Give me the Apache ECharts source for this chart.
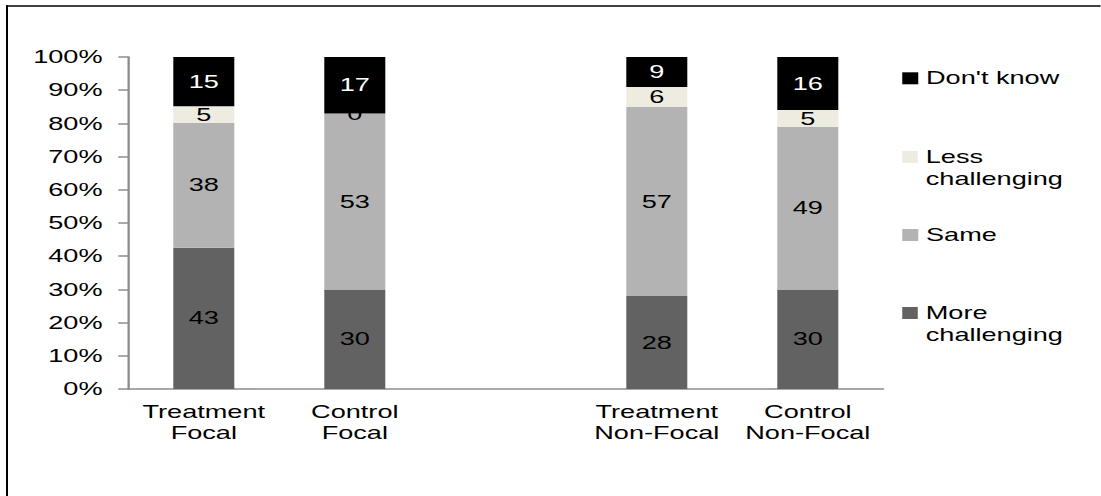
<!DOCTYPE html>
<html>
<head>
<meta charset="utf-8">
<script src="https://cdn.jsdelivr.net/npm/echarts@6/dist/echarts.min.js"></script>
<style>
  html, body { margin: 0; padding: 0; background: #fff; overflow: hidden; }
  #wrap { width: 1101px; height: 496px; overflow: hidden; position: relative; }
  #chart { height: 496px; transform-origin: 0 0; }
</style>
</head>
<body>
<div id="wrap"><div id="chart"></div></div>
<script>
// Survey responses per group (counts; each column is drawn as a 100% stack)
const categories = ['Treatment\nFocal', 'Control\nFocal', '', 'Treatment\nNon-Focal', 'Control\nNon-Focal'];
const moreChallenging = [43, 30, null, 28, 30];
const same = [38, 53, null, 57, 49];
const lessChallenging = [5, 0, null, 6, 5];
const dontKnow = [15, 17, null, 9, 16];
const seriesNames = ['More challenging', 'Same', 'Less challenging', "Don't know"];
const seriesColors = ['#626262', '#b3b3b3', '#eeece1', '#000000'];
const labelColors = ['#000', '#000', '#000', '#fff'];

// The whole drawing is laid out narrow and widened horizontally.
const SX = 1.55;
const W = 1101 / SX;
const px = x => x / SX;
const FONT = '"Liberation Sans", Arial, sans-serif';
const FS = 17.5;

const chartEl = document.getElementById('chart');
chartEl.style.width = W + 'px';
chartEl.style.transform = 'scaleX(' + SX + ')';

const totals = categories.map((_, i) =>
  [moreChallenging, same, lessChallenging, dontKnow].reduce((s, arr) => s + (arr[i] || 0), 0));

function makeSeries(name, values, color, labelColor, z) {
  return {
    name: name,
    type: 'bar',
    stack: 'total',
    z: z,
    barWidth: px(61),
    data: values.map((v, i) => v == null ? null : { value: v / totals[i] * 100, raw: v }),
    itemStyle: { color: color },
    emphasis: { disabled: true },
    label: {
      show: true,
      position: 'inside',
      color: labelColor,
      fontSize: FS,
      fontFamily: FONT,
      formatter: p => String(p.data.raw)
    }
  };
}

const valueSets = [moreChallenging, same, lessChallenging, dontKnow];
const series = valueSets.map((vals, k) =>
  makeSeries(seriesNames[k], vals, seriesColors[k], labelColors[k], 2 + k));

// One legend block per entry, stacked down the right side.
// Two-line entries keep their swatch level with the first line.
const LH = 21.5;
const SW = 12; // swatch height
const legendTops = { "Don't know": 78.3, 'Less challenging': 157, 'Same': 235, 'More challenging': 313 };
const legendLabels = { "Don't know": "Don't know", 'Less challenging': 'Less\nchallenging', 'Same': 'Same', 'More challenging': 'More\nchallenging' };
const legendOrder = ["Don't know", 'Less challenging', 'Same', 'More challenging'];
const topSwatch = 'path://M0,0L10,0L10,' + SW + 'L0,' + SW + 'Z M0,' + (LH + SW) + 'L10,' + (LH + SW);
const legends = legendOrder.map(name => {
  const twoLine = legendLabels[name].indexOf('\n') >= 0;
  const c = legendTops[name];
  return {
    show: true,
    orient: 'vertical',
    left: px(926) - 5 - px(16),
    top: c - LH / 2,
    padding: 0,
    itemWidth: px(16),
    itemHeight: twoLine ? LH + SW : SW,
    selectedMode: false,
    itemStyle: { borderWidth: 0 },
    data: [{ name: name, icon: twoLine ? topSwatch : 'rect' }],
    formatter: n => legendLabels[n],
    textStyle: {
      fontSize: FS,
      fontFamily: FONT,
      color: '#000',
      lineHeight: LH
    }
  };
});

const chart = echarts.init(chartEl, null, { renderer: 'svg', width: W, height: 496 });
chart.setOption({
  animation: false,
  backgroundColor: '#fff',
  grid: {
    left: px(128.3),
    top: 57,
    width: px(151) * categories.length,
    bottom: 496 - 389,
    containLabel: false
  },
  legend: legends,
  xAxis: {
    type: 'category',
    data: categories,
    axisLine: { show: true, lineStyle: { color: '#8c8c8c', width: 1.5 } },
    axisTick: { show: false },
    axisLabel: {
      interval: 0,
      margin: 12.5,
      fontSize: FS,
      fontFamily: FONT,
      color: '#000',
      lineHeight: 21
    }
  },
  yAxis: {
    type: 'value',
    min: 0,
    max: 100,
    interval: 10,
    splitLine: { show: false },
    axisLine: { show: true, lineStyle: { color: '#8c8c8c', width: 1.5 } },
    axisTick: { show: true, length: px(10), lineStyle: { color: '#8c8c8c', width: 1.5 } },
    axisLabel: {
      margin: px(128.3) - px(102.5),
      fontSize: FS,
      fontFamily: FONT,
      color: '#000',
      formatter: '{value}%'
    }
  },
  // outer frame: left and top edges only
  graphic: [
    {
      type: 'rect',
      silent: true,
      shape: { x: px(6), y: 5.2, width: px(2), height: 496 },
      style: { fill: '#000' }
    },
    {
      type: 'rect',
      silent: true,
      shape: { x: px(6), y: 5.2, width: W - px(6), height: 1.6 },
      style: { fill: '#000' }
    }
  ],
  series: series
});
</script>
</body>
</html>
